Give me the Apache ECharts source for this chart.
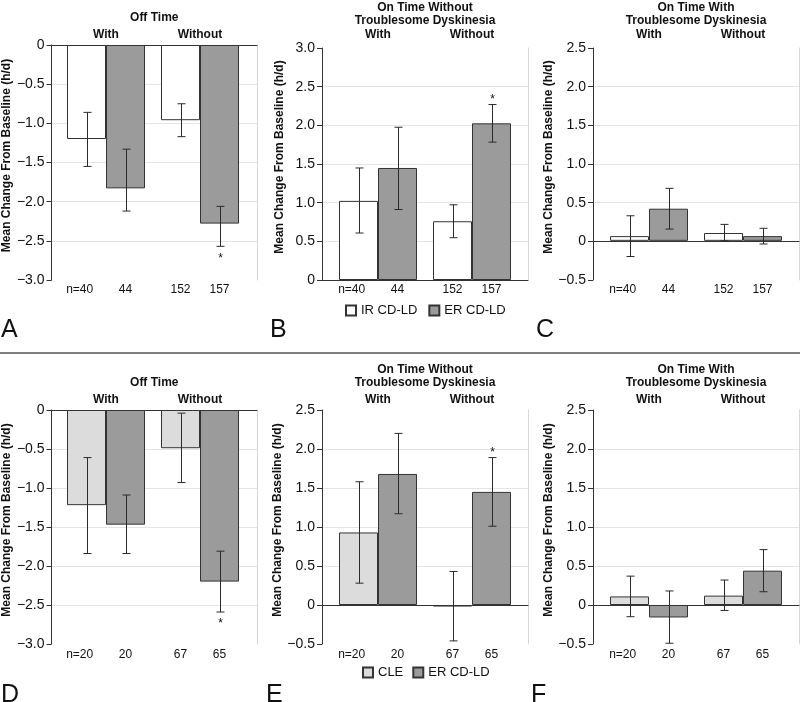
<!DOCTYPE html>
<html><head><meta charset="utf-8">
<script src="https://cdn.jsdelivr.net/npm/echarts@6/dist/echarts.min.js"></script>
<style>html,body{margin:0;padding:0;background:#fff}#chart{width:800px;height:702px}</style>
</head><body><div id="chart"></div>
<script>
// ---------------- data ----------------
const groupLabels = ['With', 'Without'];
const nTop = [40, 44, 152, 157];
const nBottom = [20, 20, 67, 65];
const seriesNamesTop = ['IR CD-LD', 'ER CD-LD'];
const seriesNamesBottom = ['CLE', 'ER CD-LD'];
const titleOff = 'Off Time';
const titleOnWithout = 'On Time Without\nTroublesome Dyskinesia';
const titleOnWith = 'On Time With\nTroublesome Dyskinesia';
const yAxisName = 'Mean Change From Baseline (h/d)';
const panelLetters = ['A', 'B', 'C', 'D', 'E', 'F'];

// order: [comparator With, ER With, comparator Without, ER Without]
const aMean = [-1.20, -1.83, -0.96, -2.28];
const aLow  = [-1.55, -2.12, -1.17, -2.57];
const aHigh = [-0.86, -1.33, -0.75, -2.06];
const aSig  = [0, 0, 0, 1];

const bMean = [1.01, 1.43, 0.75, 2.00];
const bLow  = [0.60, 0.90, 0.54, 1.76];
const bHigh = [1.43, 1.95, 0.96, 2.24];
const bSig  = [0, 0, 0, 1];

const cMean = [0.06, 0.41, 0.10, 0.06];
const cLow  = [-0.20, 0.15, 0.00, -0.04];
const cHigh = [0.32, 0.67, 0.21, 0.16];
const cSig  = [0, 0, 0, 0];

const dMean = [-1.22, -1.47, -0.49, -2.20];
const dLow  = [-1.84, -1.84, -0.93, -2.59];
const dHigh = [-0.61, -1.09, -0.04, -1.81];
const dSig  = [0, 0, 0, 1];

const eMean = [0.93, 1.68, -0.02, 1.45];
const eLow  = [0.28, 1.17, -0.46, 1.01];
const eHigh = [1.58, 2.20, 0.43, 1.89];
const eSig  = [0, 0, 0, 1];

const fMean = [0.11, -0.16, 0.12, 0.44];
const fLow  = [-0.15, -0.49, -0.07, 0.17];
const fHigh = [0.37, 0.18, 0.32, 0.71];
const fSig  = [0, 0, 0, 0];

// ---------------- layout / style ----------------
const layout = {
  colLeft: [50, 322, 593], colWidth: [207, 206, 206],
  rowTop: [45, 410], rowHeight: [235, 234],
  groupOffset: [17, 111], groupWidth: 78,
  labelMargin: [4, 5]
};
const colors = { IR: '#ffffff', CLE: '#dcdcdc', ER: '#9b9b9b', border: '#333333' };
const FONT = '"Liberation Sans", Arial, Helvetica, sans-serif';

const panels = [
  { mean: aMean, low: aLow, high: aHigh, sig: aSig, n: nTop, names: seriesNamesTop, comp: colors.IR, title: titleOff, min: -3, max: 0, row: 0, col: 0 },
  { mean: bMean, low: bLow, high: bHigh, sig: bSig, n: nTop, names: seriesNamesTop, comp: colors.IR, title: titleOnWithout, min: 0, max: 3, row: 0, col: 1 },
  { mean: cMean, low: cLow, high: cHigh, sig: cSig, n: nTop, names: seriesNamesTop, comp: colors.IR, title: titleOnWith, min: -0.5, max: 2.5, row: 0, col: 2 },
  { mean: dMean, low: dLow, high: dHigh, sig: dSig, n: nBottom, names: seriesNamesBottom, comp: colors.CLE, title: titleOff, min: -3, max: 0, row: 1, col: 0 },
  { mean: eMean, low: eLow, high: eHigh, sig: eSig, n: nBottom, names: seriesNamesBottom, comp: colors.CLE, title: titleOnWithout, min: -0.5, max: 2.5, row: 1, col: 1 },
  { mean: fMean, low: fLow, high: fHigh, sig: fSig, n: nBottom, names: seriesNamesBottom, comp: colors.CLE, title: titleOnWith, min: -0.5, max: 2.5, row: 1, col: 2 }
];

function fmtTick(v) {
  if (Math.abs(v) < 1e-9) return '0';
  return (v < 0 ? '\u2212' : '') + Math.abs(v).toFixed(1);
}

function renderErr(params, api) {
  const c = api.value(0);
  const lo = api.coord([c, api.value(1)]);
  const hi = api.coord([c, api.value(2)]);
  const sig = api.value(3);
  const mean = api.value(4);
  const x = Math.round(lo[0]) + 0.5;
  const w = 4;
  const st = { stroke: '#2a2a2a', lineWidth: 1 };
  const ch = [
    { type: 'line', shape: { x1: x, y1: lo[1], x2: x, y2: hi[1] }, style: st },
    { type: 'line', shape: { x1: x - w, y1: lo[1], x2: x + w, y2: lo[1] }, style: st },
    { type: 'line', shape: { x1: x - w, y1: hi[1], x2: x + w, y2: hi[1] }, style: st }
  ];
  if (sig) {
    const y = mean < 0 ? lo[1] + 12 : hi[1] - 5;
    ch.push({ type: 'text', style: { text: '*', x: x, y: y, align: 'center', verticalAlign: 'middle', fontSize: 12, fontFamily: FONT, fill: '#111' } });
  }
  return { type: 'group', children: ch };
}

const grid = [], xAxis = [], yAxis = [], series = [], title = [];

panels.forEach((p, pi) => {
  const L = layout.colLeft[p.col], W = layout.colWidth[p.col];
  const T = layout.rowTop[p.row], H = layout.rowHeight[p.row];
  const bg = grid.length;
  grid.push({ left: L, top: T, width: W, height: H });
  // zero line
  xAxis.push({ gridIndex: bg, type: 'category', data: ['', ''],
    axisLine: { show: true, onZero: true, lineStyle: { color: '#333', width: 1 } },
    axisTick: { show: false }, axisLabel: { show: false }, splitLine: { show: false } });
  // panel title
  xAxis.push({ gridIndex: bg, type: 'category', position: 'top', data: ['', ''],
    name: p.title, nameLocation: 'middle', nameGap: 21,
    nameTextStyle: { fontWeight: 'bold', fontSize: 12, color: '#111', lineHeight: 13, fontFamily: FONT },
    axisLine: { show: false, onZero: false }, axisTick: { show: false }, axisLabel: { show: false } });
  yAxis.push({ gridIndex: bg, type: 'value', min: p.min, max: p.max, interval: 0.5,
    axisLine: { show: true, onZero: false, lineStyle: { color: '#333' } },
    axisTick: { show: true, length: 5, lineStyle: { color: '#333' } },
    axisLabel: { margin: 7, fontSize: 14, color: '#111', formatter: fmtTick, fontFamily: FONT },
    splitLine: { show: true, showMinLine: false, showMaxLine: false, lineStyle: { color: '#e4e4e4' } },
    name: yAxisName, nameLocation: 'middle', nameGap: 36,
    nameTextStyle: { fontWeight: 'bold', fontSize: 12, color: '#111', padding: [0, 0, 0, 14], fontFamily: FONT } });
  yAxis.push({ gridIndex: bg, type: 'value', position: 'right', min: p.min, max: p.max, interval: 0.5,
    axisLine: { show: true, onZero: false, lineStyle: { color: '#d6d6d6' } },
    axisTick: { show: false }, axisLabel: { show: false }, splitLine: { show: false } });

  [0, 1].forEach(g => {
    const gi = grid.length;
    grid.push({ left: L + layout.groupOffset[g], top: T, width: layout.groupWidth, height: H });
    const i0 = 2 * g, i1 = 2 * g + 1;
    const xb = xAxis.length;
    const lab = { margin: layout.labelMargin[p.row], fontSize: 12, color: '#111', interval: 0, fontFamily: FONT };
    if (g === 0) {
      lab.formatter = (v, idx) => idx === 0 ? '{h|n=}' + v + '{hide|n=}' : v;
      lab.rich = { h: { fontSize: 12, color: '#111', fontFamily: FONT }, hide: { fontSize: 12, color: 'rgba(0,0,0,0)', fontFamily: FONT } };
    }
    xAxis.push({ gridIndex: gi, type: 'category', position: 'bottom', data: [String(p.n[i0]), String(p.n[i1])],
      axisLine: { show: false, onZero: false }, axisTick: { show: false }, axisLabel: lab });
    xAxis.push({ gridIndex: gi, type: 'category', position: 'top', data: ['', ''],
      name: groupLabels[g], nameLocation: 'middle', nameGap: 4,
      nameTextStyle: { fontWeight: 'bold', fontSize: 12, color: '#111', fontFamily: FONT },
      axisLine: { show: false, onZero: false }, axisTick: { show: false }, axisLabel: { show: false } });
    const ya = yAxis.length;
    yAxis.push({ gridIndex: gi, type: 'value', min: p.min, max: p.max, interval: 0.5, show: false });
    series.push({ type: 'bar', name: p.names[0], xAxisIndex: xb, yAxisIndex: ya,
      data: [p.mean[i0], '-'], barWidth: '100%', barGap: '-100%', silent: true,
      itemStyle: { color: p.comp, borderColor: colors.border, borderWidth: 1 } });
    series.push({ type: 'bar', name: p.names[1], xAxisIndex: xb, yAxisIndex: ya,
      data: ['-', p.mean[i1]], barWidth: '100%', barGap: '-100%', silent: true,
      itemStyle: { color: colors.ER, borderColor: colors.border, borderWidth: 1 } });
    series.push({ type: 'custom', xAxisIndex: xb, yAxisIndex: ya, renderItem: renderErr, silent: true, z: 5,
      encode: { x: 0, y: [1, 2] },
      data: [[0, p.low[i0], p.high[i0], p.sig[i0], p.mean[i0]], [1, p.low[i1], p.high[i1], p.sig[i1], p.mean[i1]]] });
  });
});

const letterPos = [[1, 318], [270, 318], [536, 318], [1, 683], [266, 683], [531, 683]];
panelLetters.forEach((t, i) => {
  title.push({ text: t, left: letterPos[i][0], top: letterPos[i][1], padding: 0,
    textStyle: { fontSize: 25, fontWeight: 'normal', color: '#111', fontFamily: FONT } });
});

const legendBase = { orient: 'horizontal', itemWidth: 10, itemHeight: 10, itemGap: 11, icon: 'rect', selectedMode: false, padding: 0,
  textStyle: { fontSize: 13, color: '#111', fontFamily: FONT } };

const option = {
  animation: false,
  backgroundColor: '#fff',
  textStyle: { fontFamily: FONT },
  title: title,
  legend: [
    Object.assign({}, legendBase, { left: 345, top: 304, data: seriesNamesTop }),
    Object.assign({}, legendBase, { left: 362, top: 666, itemGap: 9, data: seriesNamesBottom })
  ],
  grid: grid, xAxis: xAxis, yAxis: yAxis, series: series,
  graphic: [{ type: 'line', shape: { x1: 0, y1: 353, x2: 800, y2: 353 }, style: { stroke: '#555', lineWidth: 1.5 }, silent: true }]
};

const chart = echarts.init(document.getElementById('chart'), null, { renderer: 'canvas' });
chart.setOption(option);
</script></body></html>
